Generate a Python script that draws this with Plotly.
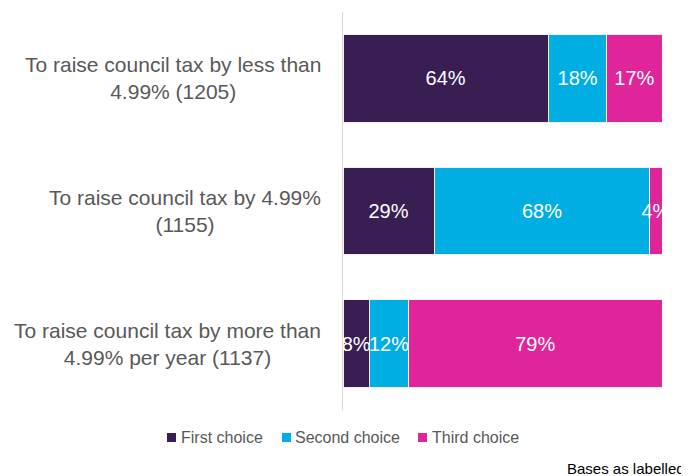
import plotly.graph_objects as go

categories = ["To raise council tax by less than<br>4.99% (1205)",
              "To raise council tax by 4.99%<br>(1155)",
              "To raise council tax by more than<br>4.99% per year (1137)"]
first_choice = [64.4, 28.6, 8.3]
second_choice = [18.3, 67.6, 12.3]
third_choice = [17.3, 3.8, 79.4]
first_labels = ["64%", "29%", "8%"]
second_labels = ["18%", "68%", "12%"]
third_labels = ["17%", "4%", "79%"]
series_names = ["First choice", "Second choice", "Third choice"]
colors = ["#381e52", "#00aee3", "#e0259b"]
footnote = "Bases as labelled"

FONT = "Liberation Sans, Arial, sans-serif"
OFF = 8  # default page body margin
W, H = 689 - OFF, 476 - OFF
L, R, T, B = 343 - OFF, 689 - 662, 12 - OFF, 476 - 410
PW, PH = W - L - R, H - T - B


def px(X):
    return (X - OFF - L) / PW


def py(Y):
    return (H - B - (Y - OFF)) / PH


fig = go.Figure()
for name, vals, labels, col in zip(series_names,
                                   [first_choice, second_choice, third_choice],
                                   [first_labels, second_labels, third_labels],
                                   colors):
    fig.add_trace(go.Bar(
        y=list(range(len(categories))), x=vals, name=name, orientation="h",
        marker=dict(color=col, line=dict(color="#f0f0f0", width=1)),
        text=labels, textposition="inside", insidetextanchor="middle",
        textangle=0,
        textfont=dict(color="white", size=20, family=FONT),
        cliponaxis=True, hoverinfo="skip", showlegend=False,
    ))

for i, c in enumerate(categories):
    fig.add_annotation(x=px(323), xref="paper", y=i, yref="y",
                       text=c, showarrow=False, xanchor="right", align="center",
                       font=dict(size=21, color="#595959", family=FONT))

# legend (squares + labels)
legend_sq = [167, 282, 418]
legend_tx = [179, 293, 430]
for name, col, sx, tx in zip(series_names, colors, legend_sq, legend_tx):
    fig.add_shape(type="rect", xref="paper", yref="paper",
                  x0=px(sx), x1=px(sx + 9), y0=py(442), y1=py(433),
                  fillcolor=col, line=dict(width=0))
    fig.add_annotation(x=px(tx), xref="paper", y=py(437.5), yref="paper",
                       text=name, showarrow=False, xanchor="left", yanchor="middle",
                       font=dict(size=16, color="#595959", family=FONT))

fig.add_annotation(x=px(565), xref="paper", y=py(468), yref="paper", text=footnote,
                   showarrow=False, xanchor="left", yanchor="middle",
                   font=dict(size=15, color="#000000", family=FONT))

fig.update_layout(
    barmode="stack", bargap=0.34,
    width=W, height=H,
    margin=dict(l=L, r=R, t=T, b=B, autoexpand=False),
    paper_bgcolor="white", plot_bgcolor="white",
    font=dict(family=FONT, color="#595959"),
    uniformtext=dict(minsize=20, mode="show"),
    showlegend=False,
    xaxis=dict(range=[0, 100], visible=False, fixedrange=True),
    yaxis=dict(range=[2.5, -0.5], showticklabels=False, showgrid=False,
               zeroline=False, showline=True, linecolor="#d9d9d9", linewidth=1,
               ticks=""),
)
fig.write_html("out.html")
